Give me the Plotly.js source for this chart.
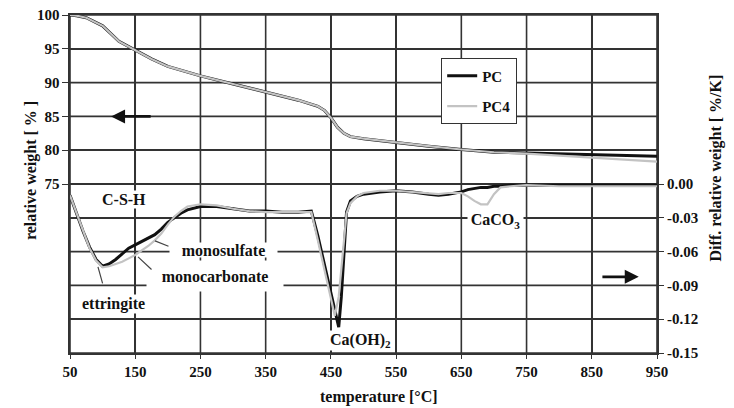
<!DOCTYPE html>
<html>
<head>
<meta charset="utf-8">
<script src="https://cdn.plot.ly/plotly-3.0.1.min.js"></script>
<style>html,body{margin:0;padding:0;background:#fff;}#chart{width:734px;height:408px;}</style>
</head>
<body>
<div id="chart"></div>
<script>
// Relative weight (TG) curves, left axis
var tempTG = [50, 60, 75, 100, 125, 150, 175, 200, 250, 300, 350, 400, 430, 440, 450, 460, 470, 480, 500, 550, 600, 650, 700, 750, 800, 850, 900, 950];
var weightPC = [100, 99.9, 99.6, 98.4, 96.1, 94.8, 93.5, 92.4, 91.0, 89.8, 88.6, 87.4, 86.5, 85.9, 84.8, 83.4, 82.5, 82.0, 81.7, 81.1, 80.6, 80.1, 79.7, 79.6, 79.5, 79.4, 79.3, 79.1];
var weightPC4 = [100, 99.9, 99.6, 98.4, 96.1, 94.8, 93.5, 92.4, 91.0, 89.8, 88.6, 87.4, 86.5, 85.9, 84.8, 83.4, 82.5, 82.0, 81.7, 81.1, 80.6, 80.1, 79.7, 79.5, 79.2, 78.9, 78.6, 78.3];

// Differential relative weight (DTG) curves, right axis
var tempDTG = [50, 55, 60, 70, 80, 90, 100, 110, 120, 130, 140, 150, 160, 170, 180, 190, 200, 210, 220, 230, 250, 275, 300, 325, 350, 375, 400, 420, 430, 440, 450, 456, 462, 466, 470, 474, 480, 490, 500, 525, 550, 575, 600, 615, 630, 650, 660, 670, 680, 690, 700, 710, 725, 750, 800, 850, 900, 950];
var dtgPC = [-0.010, -0.018, -0.026, -0.042, -0.056, -0.067, -0.073, -0.071, -0.067, -0.062, -0.057, -0.054, -0.051, -0.048, -0.045, -0.040, -0.034, -0.030, -0.026, -0.023, -0.020, -0.020, -0.022, -0.024, -0.024, -0.025, -0.025, -0.024, -0.046, -0.071, -0.096, -0.111, -0.127, -0.100, -0.063, -0.025, -0.015, -0.011, -0.009, -0.007, -0.006, -0.007, -0.009, -0.010, -0.009, -0.007, -0.005, -0.004, -0.003, -0.003, -0.002, -0.002, -0.001, -0.001, -0.001, -0.001, -0.001, -0.001];
var dtgPC4 = [-0.010, -0.018, -0.026, -0.042, -0.057, -0.068, -0.074, -0.073, -0.071, -0.069, -0.066, -0.063, -0.059, -0.055, -0.050, -0.044, -0.036, -0.029, -0.024, -0.020, -0.018, -0.019, -0.022, -0.024, -0.025, -0.025, -0.025, -0.025, -0.050, -0.077, -0.103, -0.117, -0.100, -0.075, -0.050, -0.026, -0.017, -0.011, -0.008, -0.006, -0.006, -0.007, -0.008, -0.009, -0.008, -0.008, -0.011, -0.015, -0.018, -0.018, -0.009, -0.003, -0.002, -0.001, -0.002, -0.002, -0.002, -0.002];

var seriesNames = ['PC', 'PC4'];
var xTicks = [50, 150, 250, 350, 450, 550, 650, 750, 850, 950];
var leftTicks = [75, 80, 85, 90, 95, 100];
var rightTicks = [-0.15, -0.12, -0.09, -0.06, -0.03, 0];
var rightTickText = ['-0.15', '-0.12', '-0.09', '-0.06', '-0.03', '0.00'];

var X_RANGE = [50, 950];
var Y_RANGE = [50, 100];
var Y2_RANGE = [-0.15, 0.15];

var FONT = 'Liberation Serif, Times New Roman, serif';
var BLACK = '#111111';
var GRAY = '#c3c3c3';
var GRID = '#333333';

// grid lines built from the tick arrays (drawn as line traces under the data)
var gx = [], gy = [], hx = [], hy = [], h2x = [], h2y = [];
xTicks.forEach(function (t) { gx.push(t, t, null); gy.push(Y_RANGE[0], Y_RANGE[1], null); });
leftTicks.forEach(function (t) { hx.push(X_RANGE[0], X_RANGE[1], null); hy.push(t, t, null); });
rightTicks.forEach(function (t) { h2x.push(X_RANGE[0], X_RANGE[1], null); h2y.push(t, t, null); });

var traces = [
  {x: gx, y: gy, type: 'scatter', mode: 'lines', yaxis: 'y', line: {color: GRID, width: 1.6}, showlegend: false, hoverinfo: 'skip'},
  {x: hx, y: hy, type: 'scatter', mode: 'lines', yaxis: 'y', line: {color: GRID, width: 1.6}, showlegend: false, hoverinfo: 'skip'},
  {x: h2x, y: h2y, type: 'scatter', mode: 'lines', yaxis: 'y2', line: {color: GRID, width: 1.6}, showlegend: false, hoverinfo: 'skip'},
  {x: tempTG, y: weightPC, name: seriesNames[0], type: 'scatter', mode: 'lines', yaxis: 'y',
   line: {color: BLACK, width: 3}, legendgroup: 'a'},
  {x: tempTG, y: weightPC4, name: seriesNames[1], type: 'scatter', mode: 'lines', yaxis: 'y',
   line: {color: GRAY, width: 2.2}, legendgroup: 'b'},
  {x: tempDTG, y: dtgPC, name: seriesNames[0], type: 'scatter', mode: 'lines', yaxis: 'y2',
   line: {color: BLACK, width: 3}, showlegend: false},
  {x: tempDTG, y: dtgPC4, name: seriesNames[1], type: 'scatter', mode: 'lines', yaxis: 'y2',
   line: {color: GRAY, width: 2.2}, showlegend: false}
];

var tickFont = {family: FONT, size: 15, color: '#111', weight: 'bold'};
var labelFont = {family: FONT, size: 16, color: '#111', weight: 'bold'};

function label(text, x, y, w, h) {
  var a = {text: text, x: x, y: y, xref: 'x', yref: 'y2', showarrow: false,
           font: labelFont, bgcolor: '#ffffff', borderpad: 0};
  if (w) { a.width = w; a.height = h; }
  return a;
}
function leader(x, y, ax, ay) {
  return {text: '', x: x, y: y, ax: ax, ay: ay, xref: 'x', yref: 'y2', axref: 'x', ayref: 'y2',
          showarrow: true, arrowhead: 0, arrowwidth: 1.2, arrowcolor: '#444'};
}

var layout = {
  width: 734, height: 408,
  margin: {l: 70, r: 77, t: 15, b: 55},
  paper_bgcolor: '#fff', plot_bgcolor: '#fff',
  showlegend: true,
  legend: {x: 0.632, y: 0.872, xanchor: 'left', yanchor: 'top', bgcolor: '#fff',
           bordercolor: '#333', borderwidth: 1.2, tracegroupgap: 8, traceorder: 'grouped',
           font: {family: FONT, size: 15, color: '#111', weight: 'bold'}},
  xaxis: {range: X_RANGE, tickvals: xTicks, ticktext: xTicks.map(String),
          showgrid: true, gridcolor: GRID, gridwidth: 1.6, zeroline: false,
          showline: true, mirror: true, linecolor: GRID, linewidth: 1.8,
          ticks: 'outside', ticklen: 4, tickcolor: GRID, tickfont: tickFont},
  yaxis: {range: Y_RANGE, tickvals: leftTicks, ticktext: leftTicks.map(String),
          showgrid: true, gridcolor: GRID, gridwidth: 1.6, zeroline: false,
          showline: true, mirror: true, linecolor: GRID, linewidth: 1.6,
          ticks: 'outside', ticklen: 6, tickcolor: GRID, tickfont: tickFont},
  yaxis2: {range: Y2_RANGE, overlaying: 'y', side: 'right', tickvals: rightTicks, ticktext: rightTickText,
           showgrid: true, gridcolor: GRID, gridwidth: 1.6, zeroline: false, showline: false,
           ticks: 'outside', ticklen: 6, tickcolor: GRID, tickfont: tickFont},
  annotations: [
    {text: 'relative weight [ % ]', xref: 'paper', yref: 'paper', x: -0.085, y: 0.75,
     textangle: -90, showarrow: false, font: labelFont},
    {text: 'Diff. relative weight [ %/K]', xref: 'paper', yref: 'paper', x: 1.119, y: 0.266,
     textangle: -90, showarrow: false, font: labelFont},
    {text: 'temperature [°C]', xref: 'paper', yref: 'paper', x: 0.526, y: -0.13,
     yanchor: 'middle', showarrow: false, font: labelFont},
    label('C-S-H', 133, -0.0135),
    label('monosulfate', 285, -0.0585, 107, 14),
    label('monocarbonate', 272, -0.082, 136, 30),
    label('ettringite', 117, -0.1065),
    label('Ca(OH)<sub>2</sub>', 496, -0.139),
    label('CaCO<sub>3</sub>', 702, -0.0325, 55, 20),
    leader(92.9, -0.0736, 100.6, -0.0895),
    leader(180.3, -0.0505, 203.3, -0.0558),
    leader(154.3, -0.0647, 177.3, -0.0771),
    {text: '', x: 113, y: 85, ax: 176, ay: 85, xref: 'x', yref: 'y', axref: 'x', ayref: 'y',
     showarrow: true, arrowhead: 2, arrowsize: 1, arrowwidth: 2.8, arrowcolor: '#111'},
    {text: '', x: 922, y: -0.0824, ax: 864, ay: -0.0824, xref: 'x', yref: 'y2', axref: 'x', ayref: 'y2',
     showarrow: true, arrowhead: 2, arrowsize: 1, arrowwidth: 2.8, arrowcolor: '#111'}
  ]
};

Plotly.newPlot('chart', traces, layout, {displayModeBar: false, staticPlot: true});
</script>
</body>
</html>
